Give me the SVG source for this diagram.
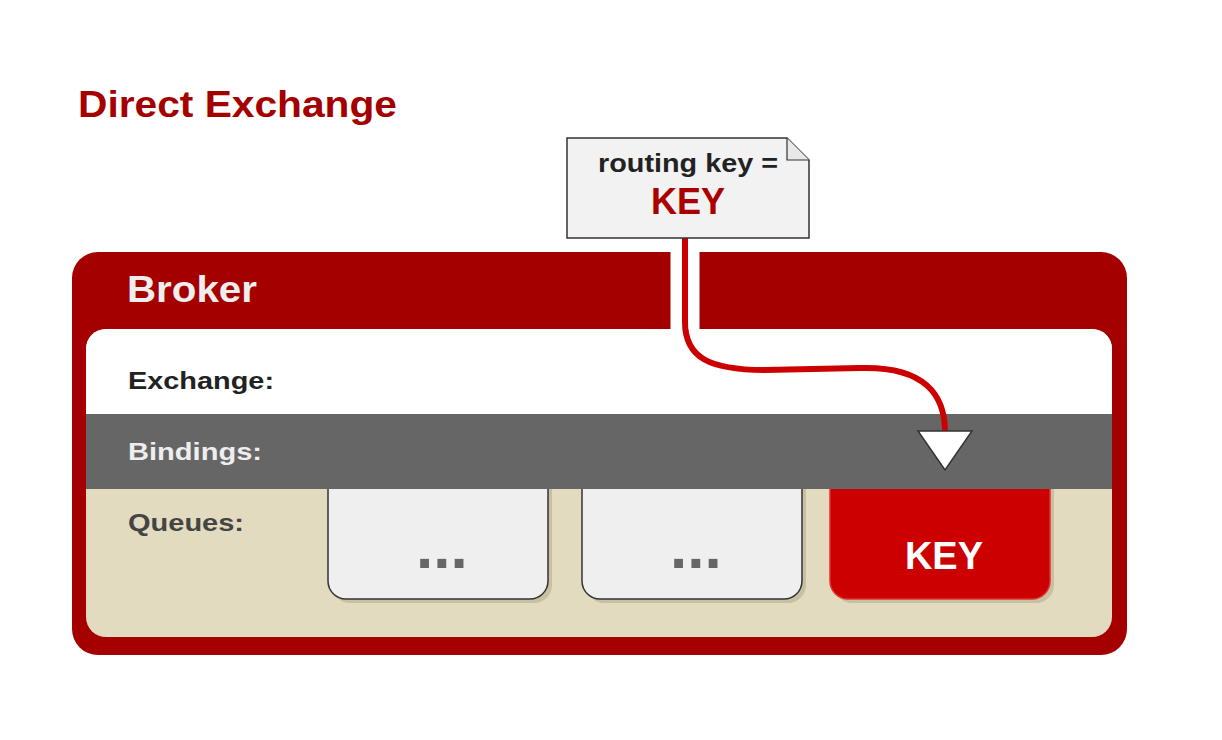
<svg xmlns="http://www.w3.org/2000/svg" width="1222" height="740" viewBox="0 0 1222 740">
<style>
text{font-family:"Liberation Sans",Arial,sans-serif;font-weight:bold}
.lbl{font-size:24.5px}
.q{fill:#efefef;stroke:#333;stroke-width:1.5}
.sh{fill:#c8c0a2}
.dots{font-size:62px;fill:#666}
</style>
<rect width="1222" height="740" fill="#fff"/>
<text x="78" y="117" font-size="37.5" fill="#a50000" textLength="319" lengthAdjust="spacingAndGlyphs">Direct Exchange</text>
<g id="broker">
<rect x="72" y="252" width="1055" height="403" rx="26" fill="#a50000"/>
<text x="127" y="302" font-size="37.5" fill="#eeeeee" textLength="130" lengthAdjust="spacingAndGlyphs">Broker</text>
<rect x="86" y="329" width="1026" height="308" rx="20" fill="#e2dbbf"/>
</g>
<g id="queue1">
<rect class="sh" x="332" y="470" width="220" height="133" rx="18"/>
<rect class="q" x="328" y="466" width="220" height="133" rx="18"/>
<text class="dots" x="416" y="568">...</text>
</g>
<g id="queue2">
<rect class="sh" x="586" y="470" width="220" height="133" rx="18"/>
<rect class="q" x="582" y="466" width="220" height="133" rx="18"/>
<text class="dots" x="670" y="568">...</text>
</g>
<g id="queue3">
<rect class="sh" x="834" y="470" width="220" height="133" rx="18"/>
<rect x="830" y="466" width="220" height="133" rx="18" fill="#cc0000" stroke="#e03030" stroke-width="1.5"/>
<text x="944" y="569" font-size="38" fill="#ffffff" text-anchor="middle">KEY</text>
</g>
<g id="exchange">
<path d="M86,349 A20,20 0 0 1 106,329 L1092,329 A20,20 0 0 1 1112,349 L1112,415 L86,415 Z" fill="#ffffff"/>
<text class="lbl" x="128" y="389" fill="#222" textLength="146" lengthAdjust="spacingAndGlyphs">Exchange:</text>
</g>
<g id="bindings">
<rect x="86" y="414" width="1026" height="75" fill="#666666"/>
<text class="lbl" x="128" y="460" fill="#eeeeee" textLength="134" lengthAdjust="spacingAndGlyphs">Bindings:</text>
</g>
<text class="lbl" x="128" y="531" fill="#444" textLength="116" lengthAdjust="spacingAndGlyphs">Queues:</text>
<g id="connectors">
<line x1="685" y1="238" x2="685" y2="330" stroke="#ffffff" stroke-width="29"/>
<path d="M685,238 L685,322 C685,358 710,370 765,370 L860,368 C925,366 945,395 945,432" fill="none" stroke="#cc0000" stroke-width="6"/>
<polygon points="918,431 972,431 945,470" fill="#ffffff" stroke="#333" stroke-width="1.5"/>
</g>
<g id="message">
<path d="M567,138 L787,138 L809,160 L809,238 L567,238 Z" fill="#f2f2f2" stroke="#333" stroke-width="1.5"/>
<path d="M787,138 L787,160 L809,160" fill="#e8e8e8" stroke="#333" stroke-width="1.2"/>
<text x="598" y="172" font-size="25" fill="#222" textLength="180" lengthAdjust="spacingAndGlyphs">routing key =</text>
<text x="688" y="214" font-size="36" fill="#aa0000" text-anchor="middle">KEY</text>
</g>
</svg>
